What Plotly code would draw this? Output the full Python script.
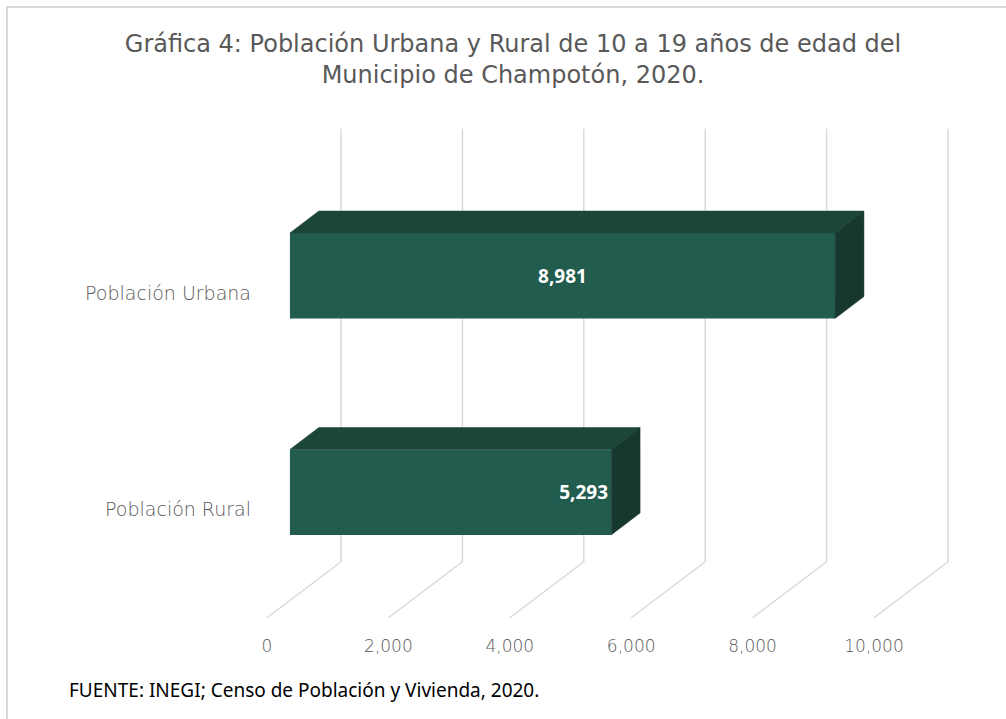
import plotly.graph_objects as go

# ---------------- data ----------------
categories = ["Población Rural", "Población Urbana"]
values = [5293, 8981]
label_anchor = ["end", "middle"]
tick_values = [0, 2000, 4000, 6000, 8000, 10000]
tick_labels = ["0", "2,000", "4,000", "6,000", "8,000", "10,000"]
title_text = ("Gráfica 4: Población Urbana y Rural de 10 a 19 años de edad del<br>"
              "Municipio de Champotón, 2020.")
source_text = "FUENTE: INEGI; Censo de Población y Vivienda, 2020."

# ---------------- geometry / style ----------------
W, H = 1006, 719
ML, MR, MT, MB = 252, 0, 0, 85
K = 0.0607          # px per unit on the x scale
X0_PX = 267         # pixel of value 0 on the front plane
CAT_PX = 216.5      # px per category step
Y0_PX = 509.5       # pixel of first category centre on the front plane
DEPTH_DX, DEPTH_DY = 74, 56   # oblique depth offset (px) front -> back wall
D_FRONT, D_BACK = 0.31, 0.70  # bar depth extent (fraction of depth)
BAR_W = 0.395
WALL_LO, WALL_HI = -0.5, 1.5

C_FRONT = "#225C4E"
C_TOP = "#1C463A"
C_SIDE = "#17382F"
C_GRID = "#D9D9D9"
C_TEXT = "#595959"

Dv = DEPTH_DX / K
Dy = DEPTH_DY / CAT_PX

x_range = [(ML - X0_PX) / K, (W - MR - X0_PX) / K]
y_range = [(Y0_PX - (H - MB)) / CAT_PX, (Y0_PX - MT) / CAT_PX]

fig = go.Figure()

# bars: front face
for i, (cat, val) in enumerate(zip(categories, values)):
    fig.add_trace(go.Bar(
        orientation="h",
        x=[val], y=[i + D_FRONT * Dy], base=[D_FRONT * Dv],
        width=BAR_W,
        marker=dict(color=C_FRONT, line=dict(width=0)),
        text=[f"{val:,}"], textposition="inside",
        insidetextanchor=label_anchor[i],
        textfont=dict(color="white", size=19, family="Noto Sans", weight="bold"),
        hoverinfo="skip", showlegend=False, name=cat,
    ))

# bars: top and side faces
for i, val in enumerate(values):
    yt = i + BAR_W / 2
    yb = i - BAR_W / 2
    top_x = [D_FRONT * Dv, val + D_FRONT * Dv, val + D_BACK * Dv, D_BACK * Dv, D_FRONT * Dv]
    top_y = [yt + D_FRONT * Dy, yt + D_FRONT * Dy, yt + D_BACK * Dy, yt + D_BACK * Dy, yt + D_FRONT * Dy]
    fig.add_trace(go.Scatter(x=top_x, y=top_y, mode="lines", fill="toself",
                             fillcolor=C_TOP, line=dict(color=C_TOP, width=0.5),
                             hoverinfo="skip", showlegend=False))
    side_x = [val + D_FRONT * Dv, val + D_BACK * Dv, val + D_BACK * Dv, val + D_FRONT * Dv, val + D_FRONT * Dv]
    side_y = [yt + D_FRONT * Dy, yt + D_BACK * Dy, yb + D_BACK * Dy, yb + D_FRONT * Dy, yt + D_FRONT * Dy]
    fig.add_trace(go.Scatter(x=side_x, y=side_y, mode="lines", fill="toself",
                             fillcolor=C_SIDE, line=dict(color=C_SIDE, width=0.5),
                             hoverinfo="skip", showlegend=False))

# back-wall gridlines and floor diagonals
shapes = []
for v in tick_values:
    path = (f"M {v + Dv},{WALL_HI + Dy} L {v + Dv},{WALL_LO + Dy} "
            f"L {v},{WALL_LO}")
    shapes.append(dict(type="path", path=path, xref="x", yref="y",
                       line=dict(color=C_GRID, width=1.5), layer="below"))


def px_x(p):
    return (p - ML) / (W - ML - MR)


def px_y(p):
    return 1 - (p - MT) / (H - MT - MB)


# outer border
shapes.append(dict(type="rect", xref="paper", yref="paper",
                   x0=px_x(7), x1=px_x(W + 10), y0=px_y(7), y1=px_y(H + 10),
                   line=dict(color=C_GRID, width=2), fillcolor="rgba(0,0,0,0)",
                   layer="below"))

fig.update_layout(
    width=W, height=H,
    margin=dict(l=ML, r=MR, t=MT, b=MB),
    paper_bgcolor="white", plot_bgcolor="white",
    barmode="overlay",
    shapes=shapes,
    title=dict(text=title_text, x=513 / W, xanchor="center",
               y=1 - 52 / H, yanchor="top", xref="container", yref="container",
               font=dict(family="DejaVu Sans", size=24, color=C_TEXT)),
    xaxis=dict(range=x_range, showgrid=False, zeroline=False, showline=False,
               tickmode="array", tickvals=tick_values, ticktext=tick_labels,
               tickfont=dict(family="DejaVu Sans", size=17, color=C_TEXT, weight=200),
               ticks=""),
    yaxis=dict(range=y_range, showgrid=False, zeroline=False, showline=False,
               tickmode="array", tickvals=list(range(len(categories))),
               ticktext=categories,
               tickfont=dict(family="DejaVu Sans", size=19, color=C_TEXT, weight=200),
               ticks=""),
    annotations=[dict(text=source_text, xref="paper", yref="paper",
                      x=px_x(67), y=px_y(690), xanchor="left", yanchor="middle",
                      showarrow=False,
                      font=dict(family="Noto Sans", size=19, color="black"))],
)

fig.write_html("out.html", config={"displayModeBar": False},
               post_script="document.body.style.margin='0px';")
